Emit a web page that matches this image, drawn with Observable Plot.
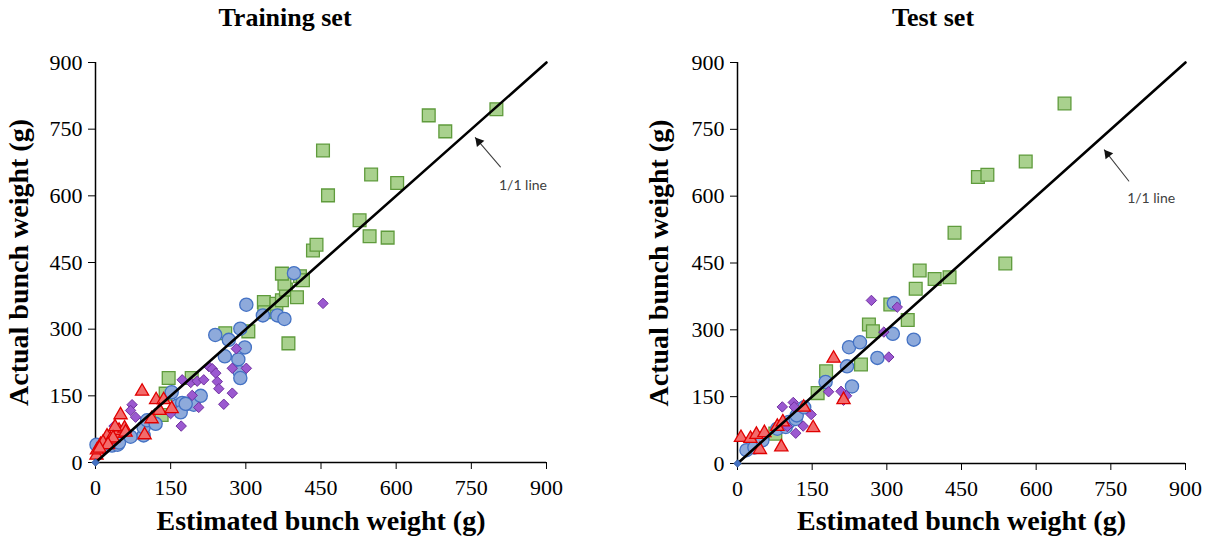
<!DOCTYPE html>
<html><head><meta charset="utf-8">
<script src="https://cdn.jsdelivr.net/npm/d3@7"></script>
<script src="https://cdn.jsdelivr.net/npm/@observablehq/plot@0.6"></script>
<style>
body{margin:0;background:#fff;}
#wrap{position:relative;width:1208px;height:539px;overflow:hidden;background:#fff;}
.panel{position:absolute;top:0;width:604px;height:539px;}
.title{position:absolute;top:3px;font:bold 26px "Liberation Serif",serif;color:#000;white-space:nowrap;transform:translateX(-50%);}
.plot{position:absolute;top:40px;left:0;}
svg g[aria-label$="axis label"]{font-weight:bold;font-size:28px;}
</style>
</head><body>
<div id="wrap">
  <div class="panel" id="left"><div class="title" style="left:285px">Training set</div><div class="plot"></div></div>
  <div class="panel" id="right" style="left:604px"><div class="title" style="left:329px">Test set</div><div class="plot"></div></div>
</div>
<script>
const ticks = [0, 150, 300, 450, 600, 750, 900];
const oneToOne = [[0, 0], [900, 900]];
const origin = [[0, 0]];

// Training set [estimated, actual]
const trainSquares = [[146,190],[192,190],[140,155],[132,107],[259,291],[305,295],[336,361],[337,338],[361,357],[372,365],[380,389],[377,402],[402,372],[372,425],[408,419],[414,410],[385,268],[434,477],[441,490],[454,702],[464,601],[527,545],[547,509],[583,506],[550,648],[602,629],[665,781],[698,745],[800,795]];
const trainCircles = [[2,40],[17,35],[33,38],[44,40],[47,45],[70,58],[96,61],[96,79],[103,95],[120,87],[152,158],[163,128],[173,134],[170,113],[183,132],[196,130],[210,150],[180,132],[239,287],[258,239],[266,276],[285,232],[288,203],[289,190],[289,301],[298,259],[301,355],[334,331],[363,331],[377,323],[396,426]];
const trainDiamonds = [[37,82],[73,130],[70,117],[80,102],[150,110],[171,82],[173,186],[190,180],[203,183],[193,151],[206,124],[216,186],[226,216],[233,211],[240,201],[243,182],[246,166],[256,131],[273,156],[273,212],[281,256],[301,212],[454,358]];
const trainTriangles = [[2,16],[3,28],[10,40],[20,50],[23,59],[30,52],[15,45],[43,65],[47,72],[58,77],[39,80],[50,107],[60,68],[93,160],[98,62],[112,98],[121,141],[136,141],[128,117],[152,121],[35,55],[25,40],[8,32]];

// Test set [estimated, actual]
const testSquares = [[76,67],[161,158],[178,207],[248,222],[264,312],[272,297],[307,357],[342,322],[358,392],[366,433],[396,414],[426,418],[436,518],[483,643],[502,648],[538,449],[579,678],[657,808]];
const testCircles = [[18,30],[34,36],[50,52],[80,78],[97,82],[103,93],[117,100],[119,108],[134,126],[177,183],[220,218],[224,261],[230,173],[246,272],[281,237],[312,291],[314,360],[354,278]];
const testDiamonds = [[90,127],[100,83],[112,137],[114,127],[117,68],[132,84],[148,110],[183,161],[208,162],[213,142],[219,152],[269,366],[294,295],[304,239],[321,351]];
const testTriangles = [[7,58],[26,56],[38,65],[54,69],[45,31],[80,83],[91,93],[88,37],[133,126],[152,80],[193,236],[213,143]];

// annotation: [tailX, tailY, headX, headY, textX, textY]
const trainNote = [[808, 665, 758, 731, 853, 624]];
const testNote = [[786, 634, 737, 704, 831, 594]];
const noteText = "1/1 line";

function chart(sq, ci, di, tr, note, o) {
  return Plot.plot({
    width: 604, height: 499,
    marginLeft: o.ml, marginRight: o.mr, marginTop: 22, marginBottom: o.mb,
    x: {domain: [0, 900]}, y: {domain: [0, 900]},
    style: {fontFamily: "'Liberation Serif', serif", fontSize: "22px", color: "#000", background: "#fff", overflow: "visible"},
    marks: [
      Plot.axisX({ticks, tickSize: 7, tickPadding: 10, label: "Estimated bunch weight (g)", labelAnchor: "center", labelArrow: "none", labelOffset: o.xlo}),
      Plot.axisY({ticks, tickSize: 7, tickPadding: 6, label: "Actual bunch weight (g)", labelAnchor: "center", labelArrow: "none", labelOffset: o.ylo}),
      Plot.ruleY([0], {stroke: "#000", strokeWidth: 1.5}),
      Plot.ruleX([0], {stroke: "#000", strokeWidth: 1.5}),
      Plot.dot(sq, {x: d => d[0], y: d => d[1], symbol: "square", r: 7.2, fill: "#a9d18e", stroke: "#5f9b3c", strokeWidth: 1.3}),
      Plot.dot(ci, {x: d => d[0], y: d => d[1], symbol: "circle", r: 6.6, fill: "#8eaadb", stroke: "#4472c4", strokeWidth: 1.3}),
      Plot.dot(di, {x: d => d[0], y: d => d[1], symbol: "diamond2", r: 4.7, fill: "#9b59d0", stroke: "#7030a0", strokeWidth: 1}),
      Plot.dot(tr, {x: d => d[0], y: d => d[1], symbol: "triangle", r: 4.9, fill: "#f36b6b", stroke: "#e00000", strokeWidth: 1.3}),
      Plot.line(oneToOne, {x: d => d[0], y: d => d[1], stroke: "#000", strokeWidth: 2.6}),
      Plot.dot(origin, {x: d => d[0], y: d => d[1], symbol: "diamond2", r: 3.4, fill: "#4472c4", stroke: "#2f5597", strokeWidth: 0.8}),
      Plot.arrow(note, {x1: d => d[0], y1: d => d[1], x2: d => d[2], y2: d => d[3], stroke: "#404040", strokeWidth: 1.1, headLength: 0}),
      Plot.dot(note, {x: d => d[2], y: d => d[3], symbol: "triangle", r: 3.6, fill: "#111", stroke: "none", rotate: o.rot, dx: o.adx, dy: o.ady}),
      Plot.text(note, {x: d => d[4], y: d => d[5], text: () => noteText, fontFamily: "Lato, 'Open Sans', sans-serif", fontSize: 14, fill: "#404040"})
    ]
  });
}

document.querySelector("#left .plot").append(chart(trainSquares, trainCircles, trainDiamonds, trainTriangles, trainNote, {ml: 95, mr: 58, mb: 77, xlo: 67, ylo: 87, rot: -40, adx: 3.5, ady: 4.1}));
document.querySelector("#right .plot").append(chart(testSquares, testCircles, testDiamonds, testTriangles, testNote, {ml: 133, mr: 23, mb: 76, xlo: 66, ylo: 89, rot: -38, adx: 3.3, ady: 4.3}));
</script>
</body></html>
